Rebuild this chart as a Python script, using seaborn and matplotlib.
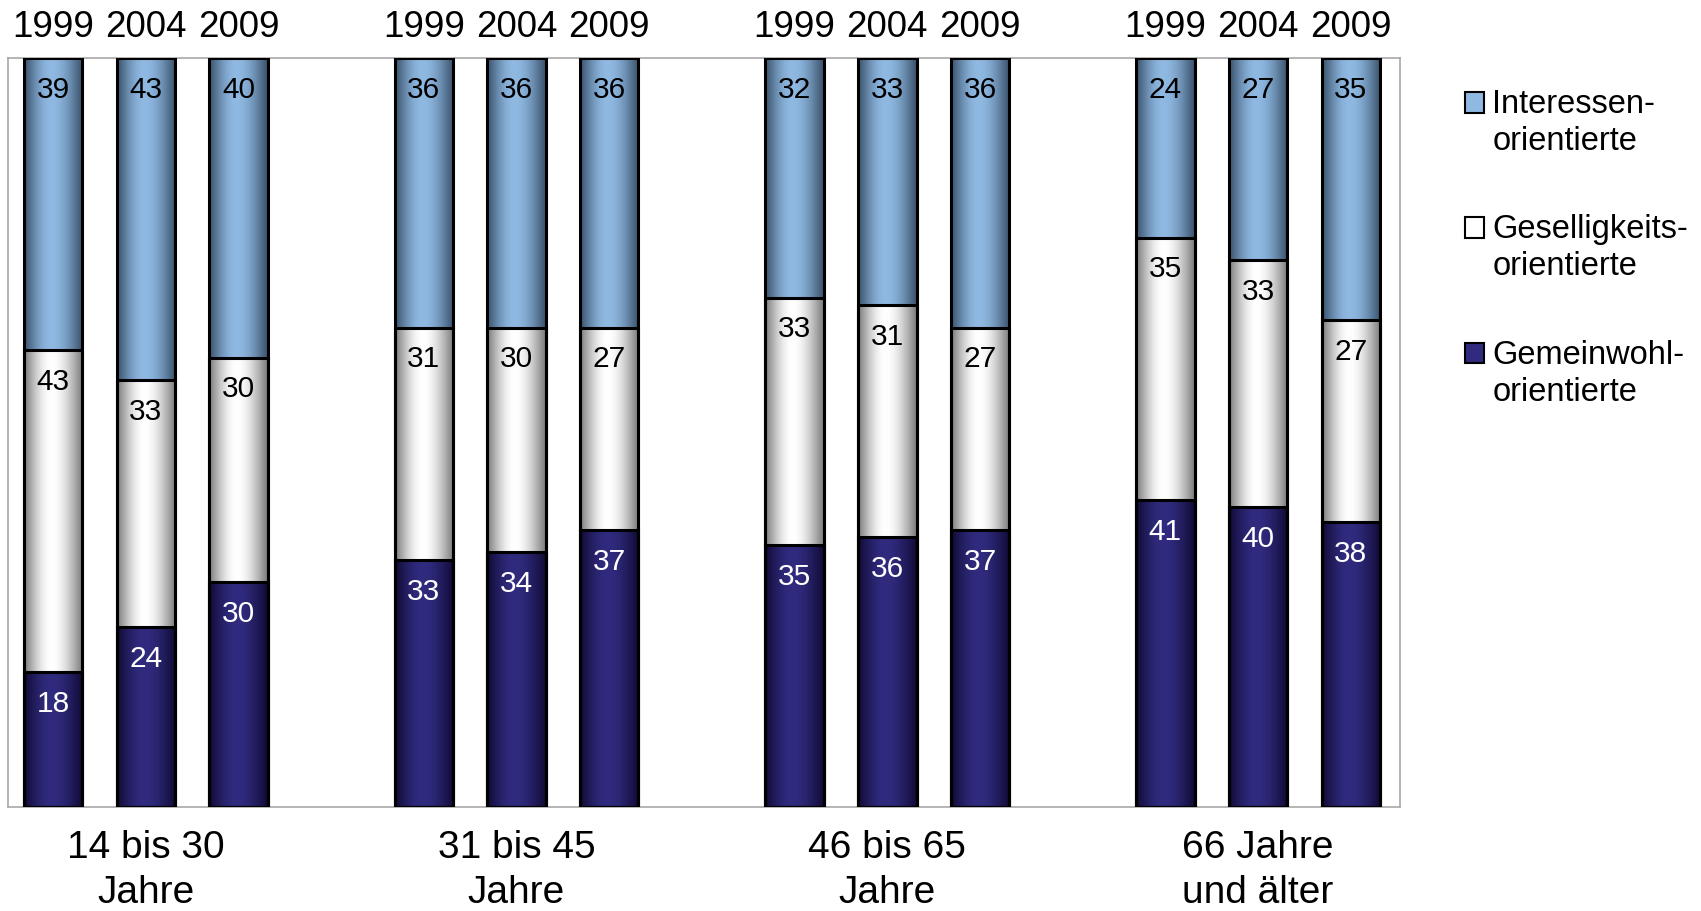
import numpy as np
import pandas as pd
import matplotlib
matplotlib.use("Agg")
import matplotlib.pyplot as plt
from matplotlib.colors import to_rgb
from matplotlib.patches import Patch, Rectangle
from matplotlib.legend_handler import HandlerPatch
import seaborn as sns

groups = ["14 bis 30\nJahre", "31 bis 45\nJahre", "46 bis 65\nJahre", "66 Jahre\nund älter"]
years = ["1999", "2004", "2009"]
interessen = [39, 43, 40, 36, 36, 36, 32, 33, 36, 24, 27, 35]
geselligkeit = [43, 33, 30, 31, 30, 27, 33, 31, 27, 35, 33, 27]
gemeinwohl = [18, 24, 30, 33, 34, 37, 35, 36, 37, 41, 40, 38]
series_names = ["Interessen-\norientierte", "Geselligkeits-\norientierte", "Gemeinwohl-\norientierte"]

# (dark edge, light centre) for the cylinder look
shades = {
    "int": ("#3a526c", "#8fb9e2"),
    "ges": ("#7c7c7c", "#ffffff"),
    "gem": ("#110b36", "#302b7e"),
}

sns.set_theme(style="white")
plt.rcParams["font.family"] = ["Liberation Sans", "DejaVu Sans"]
plt.rcParams["text.color"] = "black"
plt.rcParams["xtick.color"] = "black"

n_years = len(years)
df = pd.DataFrame({
    "pos": [g * (n_years + 1) + y for g in range(len(groups)) for y in range(n_years)],
    "int": interessen,
    "ges": geselligkeit,
    "gem": gemeinwohl,
})
df["top"] = df["gem"] + df["ges"] + df["int"]
df["mid"] = df["gem"] + df["ges"]

fig = plt.figure(figsize=(17.01, 9.12), dpi=100)
ax = fig.add_axes([0.0045, 0.114, 0.8185, 0.8215])

# horizontal shading profile: dark edges, highlight a bit left of centre
t = np.linspace(0, 1, 240)
peak = 0.47
u = np.where(t < peak, t / peak * 0.5, 0.5 + (t - peak) / (1 - peak) * 0.5)
prof = np.sin(np.pi * u) ** 1.1

bar_w = 0.63
layers = [("top", "int"), ("mid", "ges"), ("gem", "gem")]
for col, key in layers:
    n_before = len(ax.patches)
    sns.barplot(data=df, x="pos", y=col, native_scale=True, orient="x", width=bar_w,
                color=shades[key][1], edgecolor="black", linewidth=2.2, ax=ax)
    dark, light = (np.array(to_rgb(c)) for c in shades[key])
    grad = (dark[None, :] + (light - dark)[None, :] * prof[:, None])[None, :, :]
    for p in ax.patches[n_before:]:
        x0, y0 = p.get_x(), p.get_y()
        w, h = p.get_width(), p.get_height()
        im = ax.imshow(grad, extent=[x0, x0 + w, y0, y0 + h], aspect="auto",
                       interpolation="bicubic", zorder=2)
        im.set_clip_path(p)
        p.set_facecolor("none")
        p.set_zorder(3)

# value labels near the top of each segment
for _, r in df.iterrows():
    ax.text(r["pos"], r["top"] - 4.1, str(r["int"]), ha="center", va="center",
            fontsize=21.5, color="black", zorder=5)
    ax.text(r["pos"], r["mid"] - 4.1, str(r["ges"]), ha="center", va="center",
            fontsize=21.5, color="black", zorder=5)
    ax.text(r["pos"], r["gem"] - 4.1, str(r["gem"]), ha="center", va="center",
            fontsize=21.5, color="white", zorder=5)

ax.set_xlim(-0.49, df["pos"].max() + 0.53)
ax.set_ylim(0, 100)
ax.set_yticks([])
ax.set_xlabel("")
ax.set_ylabel("")
centers = [g * (n_years + 1) + (n_years - 1) / 2 for g in range(len(groups))]
ax.set_xticks(centers)
ax.set_xticklabels(groups, fontsize=28, linespacing=1.33)
ax.tick_params(axis="x", length=0, pad=16)
for s in ax.spines.values():
    s.set_color("#a8a8a8")
    s.set_linewidth(1.2)

top = ax.secondary_xaxis("top")
top.set_xticks(df["pos"].tolist())
top.set_xticklabels(years * len(groups), fontsize=26.5)
top.tick_params(axis="x", length=0, pad=10)
top.spines["top"].set_visible(False)


def first_line_square(legend, orig_handle, xdescent, ydescent, width, height, fontsize):
    # put the marker next to the first of the two label lines
    return Rectangle((-xdescent, -ydescent + 0.62 * fontsize), width, height)


handles = [Patch(facecolor=shades[k][1], edgecolor="black", linewidth=1.5) for k in ["int", "ges", "gem"]]
leg = ax.legend(handles, series_names, loc="upper left", bbox_to_anchor=(0.861, 0.902),
                bbox_transform=fig.transFigure, frameon=False, fontsize=23.5,
                handlelength=0.6, handleheight=0.6, handletextpad=0.25, labelspacing=1.75,
                borderpad=0, borderaxespad=0,
                handler_map={Patch: HandlerPatch(patch_func=first_line_square)})
for txt in leg.get_texts():
    txt.set_linespacing(1.25)

fig.savefig("out.png", dpi=100, facecolor="white")
